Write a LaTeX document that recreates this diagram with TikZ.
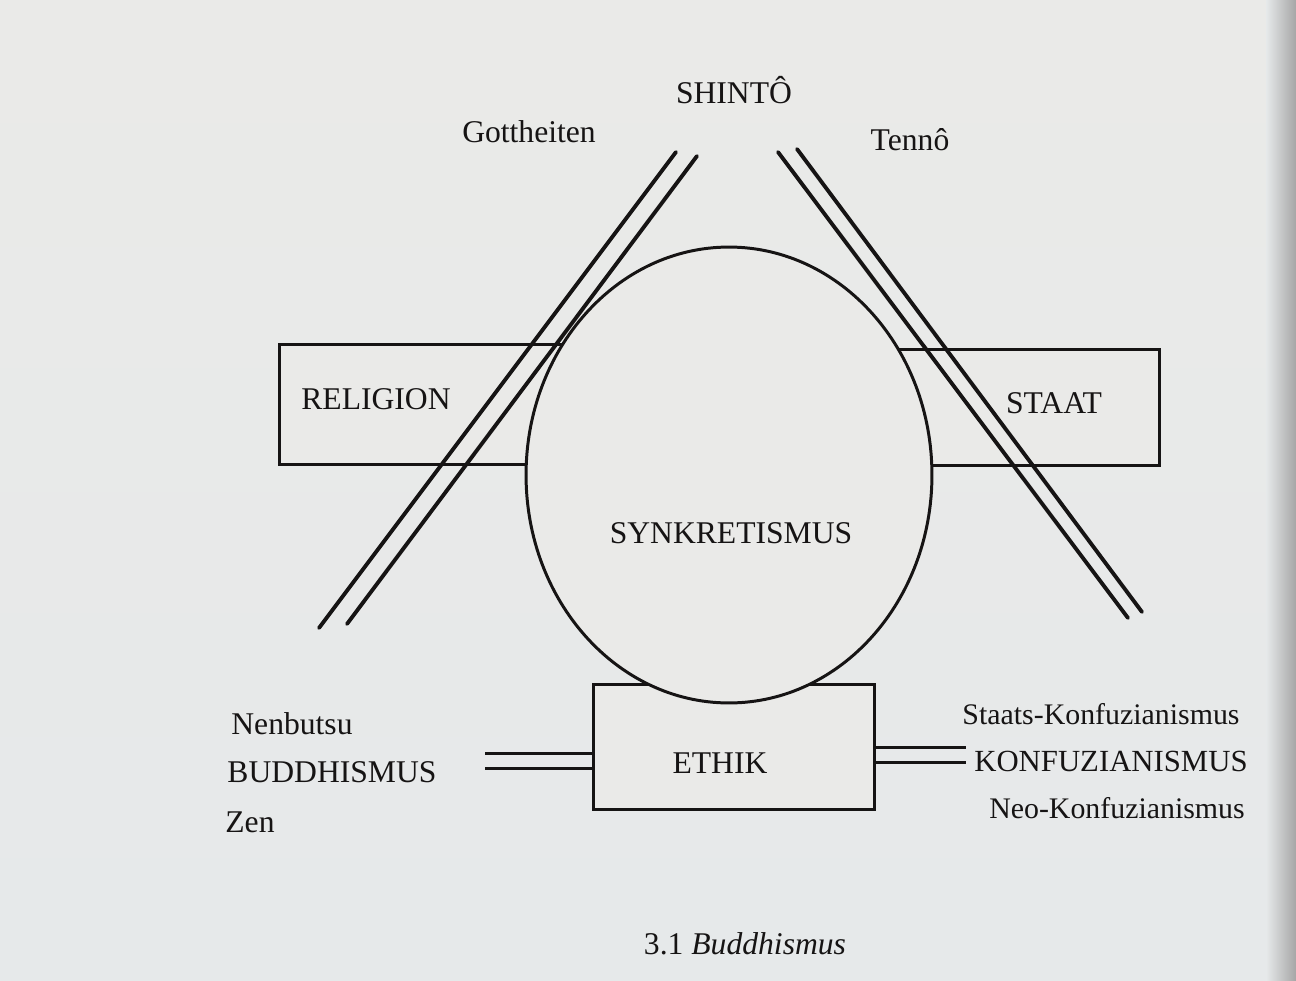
\documentclass[tikz,border=0pt]{standalone}
\usepackage{fontspec}
\setmainfont{Liberation Serif}
\usetikzlibrary{shapes.geometric}
\definecolor{paper}{HTML}{EAEAE8}
\definecolor{paperlow}{HTML}{E6E9EA}
\definecolor{ink}{HTML}{161414}
\begin{document}
\begin{tikzpicture}[x=0.02cm,y=-0.02cm,
  lbl/.style={font=\fontsize{18}{21}\selectfont, text=ink, anchor=base, inner sep=0pt},
  box/.style={draw=ink, line width=1.7pt, fill=paper, inner sep=0pt, anchor=north west},
  bar/.style={draw=ink, line width=2.2pt, line cap=round},
  rail/.style={draw=ink, line width=1.7pt}]
\useasboundingbox (0,0) rectangle (1296,981);
\shade[top color=paper, bottom color=paperlow] (0,0) rectangle (1296,981);
\shade[left color=paperlow, right color=gray!70] (1266,0) rectangle (1296,981);

% the three fields, partly hidden behind the central circle
\node[box, minimum width=6.44cm, minimum height=2.4cm] (religion) at (278,343) {};
\node[box, minimum width=5.76cm, minimum height=2.32cm] (staat) at (870,348) {};
\node[box, minimum width=5.62cm, minimum height=2.5cm] (ethik) at (592,683) {};

% central circle
\node[ellipse, draw=ink, line width=1.7pt, fill=paper, minimum width=8.12cm,
      minimum height=9.12cm, inner sep=0pt] (synk) at (729,475) {};

% double bars from SHINTO
\coordinate (gA1) at (319,628);  \coordinate (gA2) at (676,152);
\coordinate (gB1) at (347,624);  \coordinate (gB2) at (697,156);
\coordinate (tA1) at (778,152);  \coordinate (tA2) at (1128,618);
\coordinate (tB1) at (797,149);  \coordinate (tB2) at (1142,612);
\draw[bar] (gA1) -- (gA2);
\draw[bar] (gB1) -- (gB2);
\draw[bar] (tA1) -- (tA2);
\draw[bar] (tB1) -- (tB2);

% double links to ETHIK
\coordinate (bu1) at (485,753);  \coordinate (bu2) at (485,768);
\coordinate (ko1) at (966,747);  \coordinate (ko2) at (966,762);
\draw[rail] (bu1) -- (bu1 -| ethik.west);
\draw[rail] (bu2) -- (bu2 -| ethik.west);
\draw[rail] (ethik.east |- ko1) -- (ko1);
\draw[rail] (ethik.east |- ko2) -- (ko2);

% labels
\node[lbl] (shinto) at (734,103) {SHINTÔ};
\node[lbl] (gott) at (529,142) {Gottheiten};
\node[lbl] (tenno) at (910,150) {Tennô};
\node[lbl] (trel) at (376,409) {RELIGION};
\node[lbl] (tstaat) at (1054,413) {STAAT};
\node[lbl] (tsynk) at (731,543) {SYNKRETISMUS};
\node[lbl] (tethik) at (720,773) {ETHIK};
\node[lbl] (nenb) at (292,734) {Nenbutsu};
\node[lbl] (budd) at (332,782) {BUDDHISMUS};
\node[lbl] (zen) at (250,832) {Zen};
\node[lbl, font=\fontsize{17}{20}\selectfont] (skonf) at (1101,724) {Staats-Konfuzianismus};
\node[lbl, font=\fontsize{17.5}{20}\selectfont] (konf) at (1111,771) {KONFUZIANISMUS};
\node[lbl, font=\fontsize{17}{20}\selectfont] (nkonf) at (1117,818) {Neo-Konfuzianismus};
\node[lbl] (caption) at (745,954) {3.1 \textit{Buddhismus}};
\end{tikzpicture}
\end{document}
